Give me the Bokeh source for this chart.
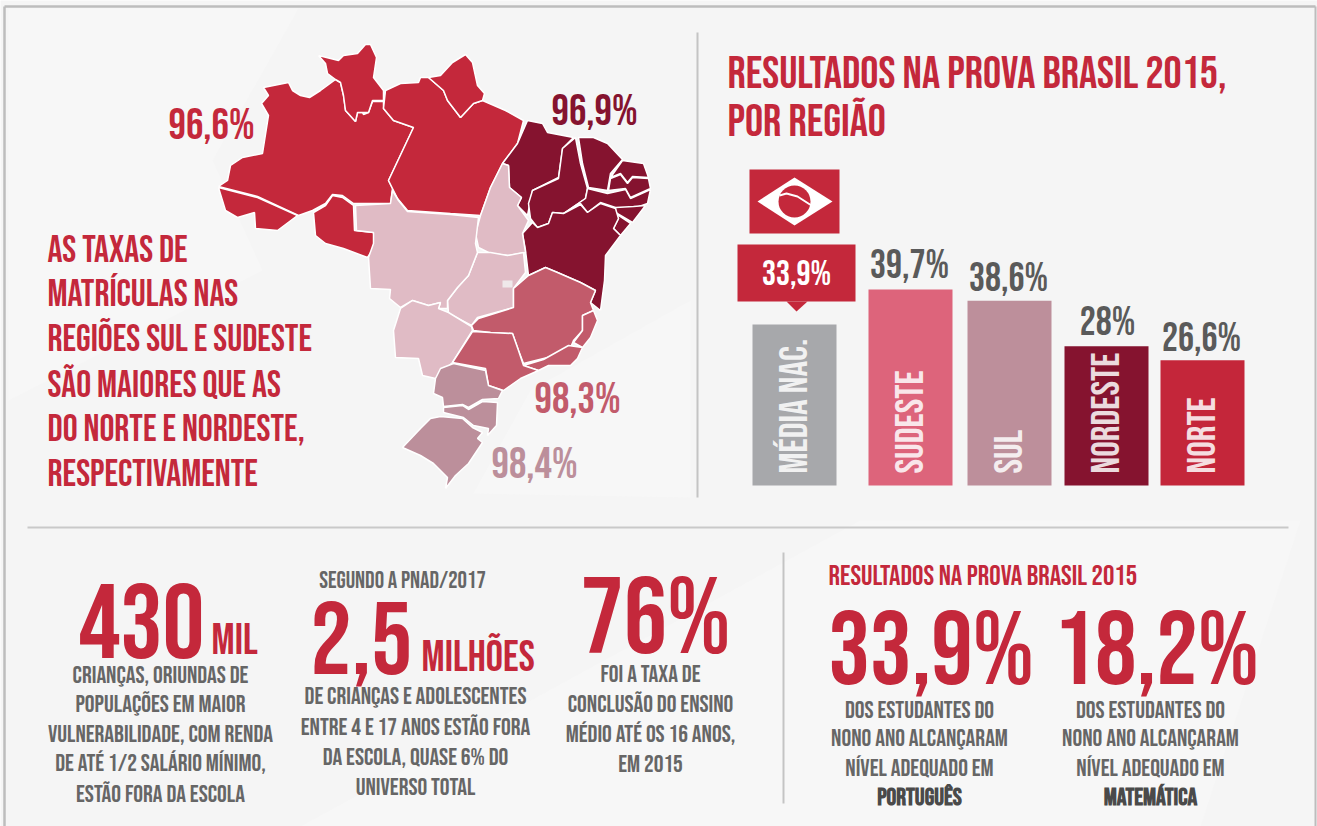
from bokeh.plotting import figure
from bokeh.models import Range1d
from bokeh.core.properties import value
from bokeh.embed import file_html
from bokeh.resources import INLINE
import math

# ---- data ----
bar_regions = ["MÉDIA NAC.", "SUDESTE", "SUL", "NORDESTE", "NORTE"]
bar_labels = ["33,9%", "39,7%", "38,6%", "28%", "26,6%"]
bar_drawn = [33.2, 40.4, 38.1, 28.7, 25.8]
bar_left = [752, 868, 967, 1064, 1160]
bar_colors = ["#a7a8ab", "#dd647b", "#bd8f9b", "#85132f", "#c4263a"]

NORTH, NE, CW, SE, SOUTH = "#c4283b", "#85132f", "#e0bbc5", "#c25b6b", "#bc8f9b"

amazonas = [(263,87),(288,82),(292,90),(300,95),(309,97),(320,90),(335,79),(340,82),(343,95),(345,110),(355,121),(357,112),(362,112),(363,114),(368,112),(372,101),(383,101),(383,108),(393,120),(413,127),(388,180),(392,188),(390,203),(353,203),(342,195),(332,194),(325,203),(312,210),(298,215),(257,196),(218,186),(227,180),(230,165),(242,157),(262,153),(268,115),(261,103),(268,95)]
acre = [(218,187),(257,197),(297,215),(277,230),(255,228),(254,212),(237,217),(225,210)]
rondonia = [(332,195),(342,197),(353,205),(354,230),(373,232),(375,245),(367,257),(343,248),(325,243),(315,235),(313,212),(325,205)]
roraima = [(318,55),(338,60),(343,55),(357,53),(365,44),(370,44),(376,57),(373,77),(383,90),(383,100),(372,100),(368,112),(362,112),(357,112),(355,121),(345,110),(343,95),(340,82),(335,79),(327,73),(325,63)]
para = [(385,90),(400,83),(418,82),(420,77),(428,77),(443,90),(447,100),(460,117),(473,103),(482,100),(505,110),(523,120),(517,143),(502,163),(490,187),(480,215),(450,213),(407,210),(397,198),(392,188),(388,180),(413,127),(393,120),(383,108)]
amapa = [(428,77),(440,75),(452,62),(465,54),(472,62),(477,85),(484,93),(482,100),(473,103),(460,117),(447,100),(443,90)]
maranhao = [(527,120),(542,123),(547,132),(573,137),(562,148),(558,177),(532,190),(527,215),(517,205),(521,197),(509,187),(508,165),(502,163),(517,143)]
piaui = [(575,137),(580,163),(587,188),(585,198),(563,213),(552,212),(548,223),(537,227),(530,218),(528,203),(532,190),(558,178),(562,148)]
ceara = [(578,137),(593,137),(607,143),(622,159),(610,173),(607,190),(588,187),(582,163)]
rn = [(622,160),(643,163),(648,177),(632,176),(627,182),(620,173),(610,177)]
pb = [(608,190),(610,178),(620,174),(627,183),(632,177),(648,178),(650,188),(630,197),(625,188)]
pe = [(587,188),(607,193),(625,189),(630,198),(650,189),(647,203),(633,208),(615,207),(600,202),(587,212),(580,203),(563,213),(585,198)]
al = [(615,207),(633,206),(645,205),(632,222),(615,212)]
se_state = [(615,213),(630,223),(620,235),(613,228),(618,218)]
bahia = [(580,204),(587,212),(600,203),(615,208),(618,218),(613,228),(620,235),(605,255),(604,280),(600,310),(590,302),(595,290),(580,282),(557,272),(545,267),(528,275),(525,250),(522,233),(532,222),(537,227),(548,223),(552,212),(563,213)]
tocantins = [(502,163),(508,165),(509,187),(521,197),(517,205),(528,220),(522,233),(525,252),(508,255),(490,253),(478,247),(475,233),(480,215),(490,187)]
goias = [(477,252),(490,252),(507,255),(523,252),(525,272),(513,288),(513,307),(477,317),(471,325),(448,313),(447,300),(457,287),(468,275)]
mt = [(355,205),(390,203),(392,190),(398,200),(407,211),(450,214),(478,217),(475,243),(477,252),(468,275),(457,287),(447,300),(447,308),(438,308),(440,302),(428,305),(412,300),(400,307),(389,298),(390,289),(370,288),(368,257),(373,243),(373,232),(356,230)]
ms = [(400,308),(412,300),(428,305),(440,302),(438,308),(448,312),(471,326),(472,330),(452,362),(435,378),(422,375),(418,358),(395,357),(393,330)]
mg = [(471,325),(478,318),(513,307),(513,288),(528,275),(545,267),(557,272),(580,282),(595,290),(590,302),(593,310),(582,315),(582,330),(573,340),(568,352),(543,358),(523,363),(518,350),(512,333),(490,332),(473,330)]
es = [(593,310),(597,320),(590,337),(582,347),(573,342),(582,330),(582,315)]
rj = [(568,345),(582,347),(577,358),(570,365),(548,365),(538,370),(523,365),(543,359)]
sp = [(472,331),(490,332),(512,333),(518,350),(523,365),(538,370),(520,378),(503,390),(488,385),(485,368),(452,362)]
pr = [(453,363),(485,370),(488,385),(502,390),(498,398),(482,399),(468,407),(462,404),(443,406),(442,397),(433,393),(435,378),(440,368)]
sc = [(443,407),(462,405),(468,409),(482,401),(497,402),(496,425),(487,435),(488,428),(473,425),(463,417),(443,412)]
rs = [(440,416),(462,418),(472,427),(482,432),(477,438),(482,442),(468,463),(455,475),(445,488),(447,477),(433,463),(420,455),(402,447),(420,428),(430,418)]
map_states = [(amazonas,NORTH),(acre,NORTH),(rondonia,NORTH),(roraima,NORTH),(para,NORTH),(amapa,NORTH),
              (maranhao,NE),(piaui,NE),(ceara,NE),(rn,NE),(pb,NE),(pe,NE),(al,NE),(se_state,NE),(bahia,NE),
              (tocantins,CW),(goias,CW),(mt,CW),(ms,CW),
              (mg,SE),(es,SE),(rj,SE),(sp,SE),(pr,SOUTH),(sc,SOUTH),(rs,SOUTH)]

RED, GREY = "#c4283b", "#666666"
DARK = "#4a4a4a"
B, N = "bold", "normal"
BODY = 24.3
# x, baseline, text, size, colour, align, style
texts = [
 (168,139,"96,6%",43.5,NORTH,"left",N),(551,125,"96,9%",43.5,NE,"left",N),
 (534,413,"98,3%",43.5,SE,"left",N),(491,478,"98,4%",43.5,SOUTH,"left",N),
 (47,262,"AS TAXAS DE",37.3,RED,"left",N),(47,306,"MATRÍCULAS NAS",37.3,RED,"left",N),
 (47,351,"REGIÕES SUL E SUDESTE",37.3,RED,"left",N),(47,397,"SÃO MAIORES QUE AS",37.3,RED,"left",N),
 (47,441,"DO NORTE E NORDESTE,",37.3,RED,"left",N),(47,486,"RESPECTIVAMENTE",37.3,RED,"left",N),
 (727,88,"RESULTADOS NA PROVA BRASIL 2015,",45.3,RED,"left",N),(727,136,"POR REGIÃO",45.3,RED,"left",N),
 (796,285,"33,9%",35,"#ffffff","center",N),
 (909,278,"39,7%",40,"#5a5a5a","center",N),(1008,291,"38,6%",40,"#5a5a5a","center",N),
 (1107,335,"28%",40,"#5a5a5a","center",N),(1201,351,"26,6%",40,"#5a5a5a","center",N),
 (78,654,"430",105,RED,"left",N),(211,654,"MIL",43,RED,"left",N),
 (160,683,"CRIANÇAS, ORIUNDAS DE",BODY,GREY,"center",N),(160,712,"POPULAÇÕES EM MAIOR",BODY,GREY,"center",N),
 (160,742,"VULNERABILIDADE, COM RENDA",BODY,GREY,"center",N),(160,771,"DE ATÉ 1/2 SALÁRIO MÍNIMO,",BODY,GREY,"center",N),
 (160,802,"ESTÃO FORA DA ESCOLA",BODY,GREY,"center",N),
 (402,588,"SEGUNDO A PNAD/2017",23.5,GREY,"center",N),
 (310,670,"2,5",103,RED,"left",N),(421,671,"MILHÕES",43,RED,"left",N),
 (415,704,"DE CRIANÇAS E ADOLESCENTES",BODY,GREY,"center",N),(415,735,"ENTRE 4 E 17 ANOS ESTÃO FORA",BODY,GREY,"center",N),
 (415,765,"DA ESCOLA, QUASE 6% DO",BODY,GREY,"center",N),(415,795,"UNIVERSO TOTAL",BODY,GREY,"center",N),
 (580,655,"76%",108,RED,"left",N),
 (650,682,"FOI A TAXA DE",BODY,GREY,"center",N),(650,712,"CONCLUSÃO DO ENSINO",BODY,GREY,"center",N),
 (650,742,"MÉDIO ATÉ OS 16 ANOS,",BODY,GREY,"center",N),(650,772,"EM 2015",BODY,GREY,"center",N),
 (828,585,"RESULTADOS NA PROVA BRASIL 2015",28.5,RED,"left",N),
 (828,685,"33,9%",104,RED,"left",N),(1053,685,"18,2%",104,RED,"left",N),
 (919,718,"DOS ESTUDANTES DO",BODY,GREY,"center",N),(919,746,"NONO ANO ALCANÇARAM",BODY,GREY,"center",N),
 (919,776,"NÍVEL ADEQUADO EM",BODY,GREY,"center",N),(919,805,"PORTUGUÊS",BODY,DARK,"center",B),
 (1150,718,"DOS ESTUDANTES DO",BODY,GREY,"center",N),(1150,746,"NONO ANO ALCANÇARAM",BODY,GREY,"center",N),
 (1150,776,"NÍVEL ADEQUADO EM",BODY,GREY,"center",N),(1150,805,"MATEMÁTICA",BODY,DARK,"center",B),
]
FONT = value("Bebas Neue")
KB = 0.32  # font-size share by which the renderer's baseline sits below the requested y

p = figure(width=1317, height=826, output_backend="svg", toolbar_location=None,
           x_range=Range1d(0,1317), y_range=Range1d(826,0), min_border=0,
           background_fill_color="#f5f5f5", border_fill_color="#f5f5f5", outline_line_color=None)
p.axis.visible = False
p.grid.visible = False
PX = 4.85
p.extra_y_ranges = {"pct": Range1d((485-826)/PX, 485/PX)}

def poly(pts, fill, line=None, lw=0):
    p.patch([a for a,b in pts],[b for a,b in pts], fill_color=fill, line_color=line, line_width=lw)

# faint background facets
poly([(8,8),(298,8),(212,160),(262,270),(8,400)], "#f7f7f7")
poly([(530,390),(473,493),(690,497),(690,300)], "#f7f7f7")
poly([(300,826),(860,520),(1300,520),(1200,826)], "#f7f7f7")

# frame and dividers
p.line([4,4],[6,826],line_color="#bdbdbd",line_width=2.5)
p.line([4,1315],[6,6],line_color="#bdbdbd",line_width=2.5)
p.line([1315,1315],[6,826],line_color="#bdbdbd",line_width=2)
p.line([697,697],[32,497],line_color="#c4c4c4",line_width=2)
p.line([27,1288],[527,527],line_color="#c9c9c9",line_width=2)
p.line([783,783],[552,803],line_color="#c4c4c4",line_width=2)

# map
for pts,c in map_states:
    poly(pts,c,"#ffffff",1.5)
p.quad(left=[502],right=[512],top=[280],bottom=[287],fill_color="#efe8ea",line_color=None)

# flag and callout
p.quad(left=[749],right=[839],top=[169],bottom=[233],fill_color=RED,line_color=None)
poly([(757,201),(794,177),(832,201),(794,225)],"#ffffff")
p.circle(x=[794],y=[201],radius=16,fill_color=RED,line_color=None)
p.line([779,786,797,811],[195,193,196,205],line_color="#ffffff",line_width=2)
p.quad(left=[737],right=[855],top=[244],bottom=[301],fill_color=RED,line_color=None)
poly([(786,301),(796,311),(807,301)],RED)

# bars
bar_w = 84
p.vbar(x=[l+bar_w/2 for l in bar_left], width=bar_w, bottom=0, top=bar_drawn,
       fill_color=bar_colors, line_color=None, y_range_name="pct")
for l,name in zip(bar_left,bar_regions):
    p.text(x=[l+bar_w/2+1],y=[473],text=[name],angle=math.pi/2,text_align="left",text_baseline="middle",
           text_color="#ffffff",text_alpha=0.85,text_font=FONT,text_font_size="39px")

for x,y,s,size,c,al_,st in texts:
    p.text(x=[x],y=[y-KB*size],text=[s],text_font=FONT,text_font_size=f"{size}px",text_color=c,
           text_align=al_,text_baseline="alphabetic",text_font_style=st)

open("out.html","w").write(file_html(p, INLINE))
